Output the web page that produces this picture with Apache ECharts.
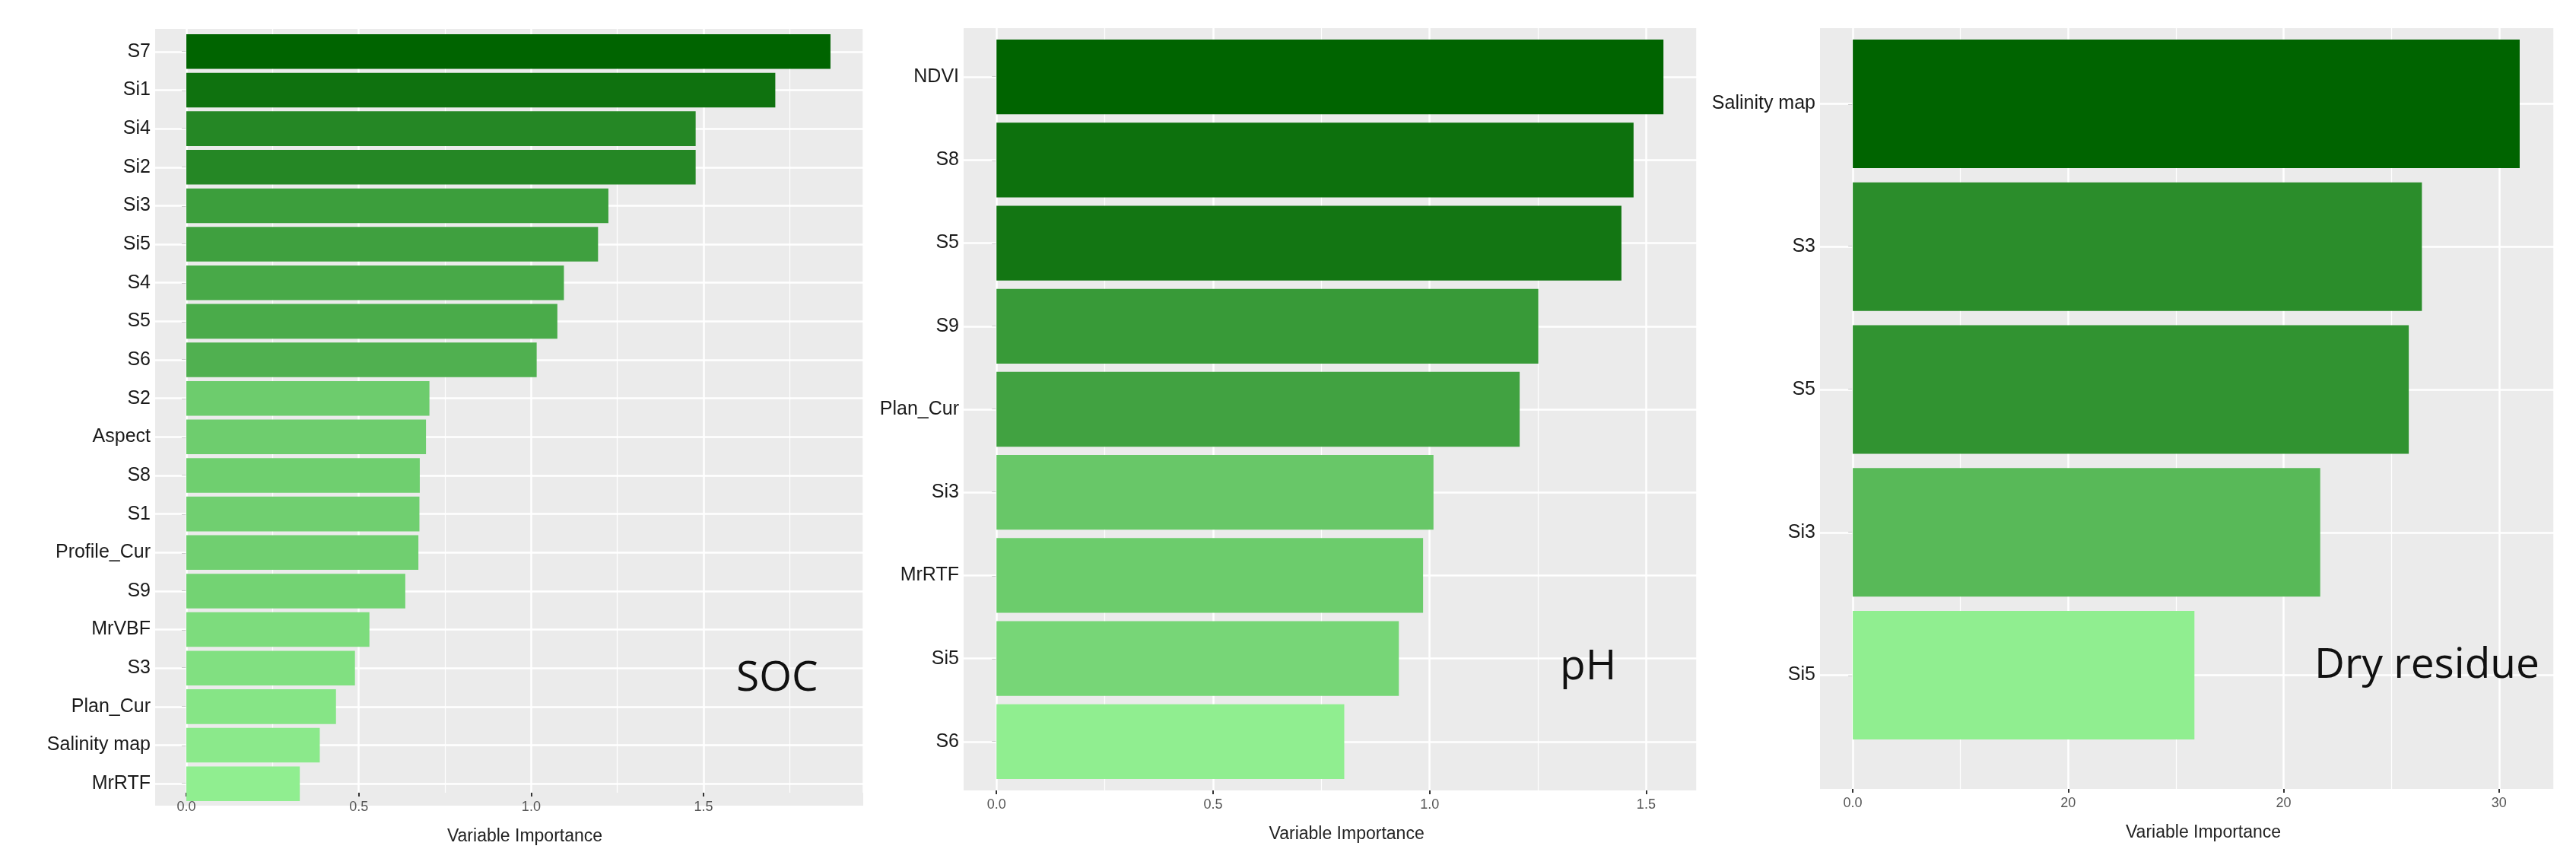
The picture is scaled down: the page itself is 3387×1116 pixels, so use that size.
<!DOCTYPE html>
<html><head><meta charset="utf-8">
<script src="https://cdn.jsdelivr.net/npm/echarts@6/dist/echarts.min.js"></script>
<style>html,body{margin:0;padding:0;background:#fff}#c{width:3387px;height:1116px}</style>
</head><body><div id="c"></div>
<script>
// ---- data ----
const socCats = ['S7','Si1','Si4','Si2','Si3','Si5','S4','S5','S6','S2','Aspect','S8','S1','Profile_Cur','S9','MrVBF','S3','Plan_Cur','Salinity map','MrRTF'];
const socVals = [1.868,1.708,1.477,1.477,1.224,1.194,1.095,1.076,1.016,0.705,0.695,0.677,0.676,0.673,0.635,0.531,0.489,0.434,0.387,0.329];
const phCats = ['NDVI','S8','S5','S9','Plan_Cur','Si3','MrRTF','Si5','S6'];
const phVals = [1.540,1.471,1.443,1.251,1.208,1.009,0.985,0.929,0.803];
const drCats = ['Salinity map','S3','S5','Si3','Si5'];
const drVals = [30.96,26.42,25.81,21.70,15.86];
const socTicks = ['0.0','0.5','1.0','1.5'];
const phTicks = ['0.0','0.5','1.0','1.5'];
const drTicks = ['0.0','20','20','30'];
const titles = ['SOC','pH','Dry residue'];
const xTitle = 'Variable Importance';

// ---- layout ----
const panels = [
  {cats:socCats, vals:socVals, ticks:socTicks, interval:0.5, lo:-0.0904, hi:1.963,
   bg:[204,38,931,1021], bars:[42.5,1055.5], title:[968,865]},
  {cats:phCats, vals:phVals, ticks:phTicks, interval:0.5, lo:-0.0759, hi:1.617,
   bg:[1267,37,964,1002], bars:[46.5,1029.5], title:[2051,850]},
  {cats:drCats, vals:drVals, ticks:drTicks, interval:10, lo:-1.522, hi:32.55,
   bg:[2393,37,965,1000], bars:[42.6,981.4], title:[3043,848]}
];
function shade(v, mn, mx){
  const t = mx===mn?1:(v-mn)/(mx-mn);
  const a=[144,238,144], b=[0,100,0];
  const c=a.map((x,i)=>Math.round(x+(b[i]-x)*t));
  return 'rgb('+c.join(',')+')';
}
const grid=[], xAxis=[], yAxis=[], series=[], graphic=[];
panels.forEach((p,i)=>{
  const [L,T,W,H]=p.bg;
  const zeroPx = L + (0-p.lo)/(p.hi-p.lo)*W;
  const g0=grid.length;
  grid.push({left:L, top:T, width:W, height:H, show:true, backgroundColor:'#EBEBEB', borderWidth:0, z:0});
  grid.push({left:zeroPx, top:T, width:L+W-zeroPx, height:H, show:false, z:1});
  grid.push({left:L, top:p.bars[0], width:W, height:p.bars[1]-p.bars[0], show:false, z:2});
  xAxis.push({gridIndex:g0, type:'value', show:false, min:0, max:1});
  yAxis.push({gridIndex:g0, type:'value', show:false, min:0, max:1});
  xAxis.push({gridIndex:g0+1, type:'value', min:0, max:p.hi, interval:p.interval, z:1,
    axisLine:{show:false},
    axisTick:{show:true, length:5, lineStyle:{color:'#333', width:2}},
    axisLabel:{fontFamily:'Liberation Sans', fontSize:18, color:'#555', margin:10, showMaxLabel:false,
      formatter:(v)=>{const k=Math.round(v/p.interval); return (Math.abs(v/p.interval-k)<1e-6 && p.ticks[k]!==undefined)?p.ticks[k]:'';}},
    splitLine:{show:true, lineStyle:{color:'#fff', width:2.5}},
    minorTick:{show:false, splitNumber:2},
    minorSplitLine:{show:true, lineStyle:{color:'#fff', width:1.2}},
    name:xTitle, nameLocation:'middle', nameGap:46,
    nameTextStyle:{fontFamily:'Liberation Sans', fontSize:23, color:'#222'}});
  yAxis.push({gridIndex:g0+1, type:'value', show:false, min:0, max:1});
  xAxis.push({gridIndex:g0+2, type:'value', show:false, min:p.lo, max:p.hi});
  yAxis.push({gridIndex:g0+2, type:'category', data:p.cats, inverse:true,
    axisLine:{show:false},
    axisTick:{show:true, alignWithLabel:true, length:6, lineStyle:{color:'#333', width:2}},
    axisLabel:{fontFamily:'Liberation Sans', fontSize:25, color:'#1a1a1a', margin:6},
    splitLine:{show:false}});
  const mn=Math.min(...p.vals), mx=Math.max(...p.vals);
  series.push({type:'line', xAxisIndex:g0+2, yAxisIndex:g0+2, data:[], z:1, silent:true,
    markLine:{z:1, silent:true, symbol:'none', label:{show:false}, animation:false,
      lineStyle:{color:'#fff', width:2.5, type:'solid'},
      data:p.cats.map(c=>({yAxis:c}))}});
  series.push({type:'bar', xAxisIndex:g0+2, yAxisIndex:g0+2, z:6, barCategoryGap:'10%', animation:false,
    data:p.vals.map(v=>({value:v, itemStyle:{color:shade(v,mn,mx)}}))});
  graphic.push({type:'text', x:p.title[0], y:p.title[1], z:10,
    style:{text:titles[i], font:'55px "Open Sans"', fill:'#111', textBaseline:'alphabetic'}});
});
const chart=echarts.init(document.getElementById('c'));
chart.setOption({animation:false, backgroundColor:'#fff', grid, xAxis, yAxis, series, graphic});
</script></body></html>
